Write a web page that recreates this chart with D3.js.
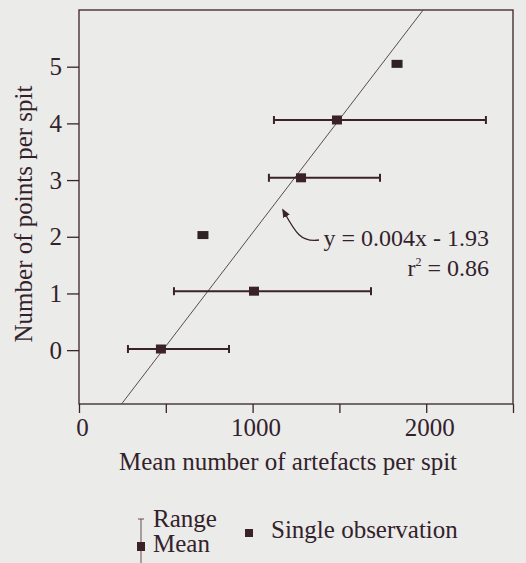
<!DOCTYPE html>
<html>
<head>
<meta charset="utf-8">
<script src="https://cdn.jsdelivr.net/npm/d3@7"></script>
<style>
  body { margin: 0; background: #ebebea; }
  svg { display: block; }
  text { font-family: "Liberation Serif", "Times New Roman", serif; fill: #33222a; }
</style>
</head>
<body>
<svg id="chart" width="526" height="563"></svg>
<script>
// spits with several observations: mean and range of artefacts
var meanPoints = [0.02, 1.04, 3.04, 4.06];
var meanArtefacts = [472, 1008, 1279, 1486];
var rangeMin = [282, 547, 1094, 1123];
var rangeMax = [864, 1682, 1734, 2344];
// single observations
var singlePoints = [2.03, 5.05];
var singleArtefacts = [714, 1832];

var xTicks = [0, 500, 1000, 1500, 2000, 2500];
var xTickLabels = ["0", "", "1000", "", "2000", ""];
var yTicks = [0, 1, 2, 3, 4, 5];

var slope = 0.004, intercept = -1.93;

var ink = "#3a2228";
var fs = 25;
var svg = d3.select("#chart");

var x = d3.scaleLinear().domain([0, 2500]).range([79, 513]);
var y = d3.scaleLinear().domain([-0.95, 6]).range([404, 10]);

// frame
svg.append("rect")
  .attr("x", x(0)).attr("y", y(6))
  .attr("width", x(2500) - x(0)).attr("height", y(-0.95) - y(6))
  .attr("fill", "none").attr("stroke", ink).attr("stroke-width", 1.3);

var xAxis = svg.append("g")
  .attr("transform", "translate(0," + y(-0.95) + ")")
  .call(d3.axisBottom(x).tickValues(xTicks)
    .tickFormat(function(d, i) { return xTickLabels[i]; })
    .tickSize(9).tickPadding(5));
var yAxis = svg.append("g")
  .attr("transform", "translate(" + x(0) + ",0)")
  .call(d3.axisLeft(y).tickValues(yTicks).tickFormat(d3.format("d"))
    .tickSize(12).tickPadding(5));

[xAxis, yAxis].forEach(function(a) {
  a.select(".domain").remove();
  a.selectAll("line").attr("stroke", ink).attr("stroke-width", 1.3);
  a.selectAll("text").attr("font-size", fs)
    .attr("font-family", "'Liberation Serif', serif").attr("fill", "#33222a");
});
xAxis.selectAll("text").attr("dx", 3);

svg.append("text")
  .attr("x", 288).attr("y", 470)
  .attr("text-anchor", "middle").attr("font-size", fs)
  .text("Mean number of artefacts per spit");
svg.append("text")
  .attr("transform", "translate(32,214) rotate(-90)")
  .attr("text-anchor", "middle").attr("font-size", fs)
  .text("Number of points per spit");

// regression line clipped to frame
var yLo = -0.95, yHi = 6;
svg.append("line")
  .attr("x1", x((yLo - intercept) / slope)).attr("y1", y(yLo))
  .attr("x2", x((yHi - intercept) / slope)).attr("y2", y(yHi))
  .attr("stroke", "#5a4a50").attr("stroke-width", 1);

// range bars
var bars = svg.selectAll(".range").data(meanPoints).enter().append("g");
bars.append("line")
  .attr("x1", function(d, i) { return x(rangeMin[i]); })
  .attr("x2", function(d, i) { return x(rangeMax[i]); })
  .attr("y1", function(d) { return y(d); })
  .attr("y2", function(d) { return y(d); })
  .attr("stroke", ink).attr("stroke-width", 2);
[rangeMin, rangeMax].forEach(function(arr) {
  bars.append("line")
    .attr("x1", function(d, i) { return x(arr[i]); })
    .attr("x2", function(d, i) { return x(arr[i]); })
    .attr("y1", function(d) { return y(d) - 4; })
    .attr("y2", function(d) { return y(d) + 4; })
    .attr("stroke", ink).attr("stroke-width", 2);
});
bars.append("rect")
  .attr("x", function(d, i) { return x(meanArtefacts[i]) - 5; })
  .attr("y", function(d) { return y(d) - 4.5; })
  .attr("width", 10).attr("height", 9)
  .attr("fill", ink);

svg.selectAll(".single").data(singlePoints).enter().append("rect")
  .attr("x", function(d, i) { return x(singleArtefacts[i]) - 5.5; })
  .attr("y", function(d) { return y(d) - 4; })
  .attr("width", 11).attr("height", 8)
  .attr("fill", "#2e2226");

// annotation
svg.append("defs").append("marker")
  .attr("id", "arr").attr("viewBox", "0 -5 10 10")
  .attr("refX", 8).attr("refY", 0)
  .attr("markerWidth", 7).attr("markerHeight", 7)
  .attr("orient", "auto")
  .append("path").attr("d", "M0,-4L10,0L0,4Z").attr("fill", ink);
svg.append("path")
  .attr("d", "M319,240 C300,243 294,230 283,210")
  .attr("fill", "none").attr("stroke", ink).attr("stroke-width", 1.3)
  .attr("marker-end", "url(#arr)");
svg.append("text")
  .attr("x", 489).attr("y", 246).attr("text-anchor", "end").attr("font-size", 24)
  .text("y = 0.004x - 1.93");
var r2 = svg.append("text")
  .attr("x", 489).attr("y", 276).attr("text-anchor", "end").attr("font-size", 24);
r2.append("tspan").text("r");
r2.append("tspan").attr("font-size", 12).attr("dy", -10).text("2");
r2.append("tspan").attr("dy", 10).text(" = 0.86");

// legend
var lg = svg.append("g");
lg.append("line").attr("x1", 141).attr("x2", 141).attr("y1", 519).attr("y2", 563)
  .attr("stroke", "#6a4a52").attr("stroke-width", 1);
lg.append("line").attr("x1", 138).attr("x2", 144).attr("y1", 519).attr("y2", 519)
  .attr("stroke", "#6a4a52").attr("stroke-width", 1);
lg.append("rect").attr("x", 137).attr("y", 542).attr("width", 8).attr("height", 9).attr("fill", ink);
lg.append("text").attr("x", 153).attr("y", 527).attr("font-size", fs).text("Range");
lg.append("text").attr("x", 153).attr("y", 552).attr("font-size", fs).text("Mean");
lg.append("rect").attr("x", 245).attr("y", 529).attr("width", 8).attr("height", 8).attr("fill", ink);
lg.append("text").attr("x", 271).attr("y", 538).attr("font-size", fs).text("Single observation");
</script>
</body>
</html>
